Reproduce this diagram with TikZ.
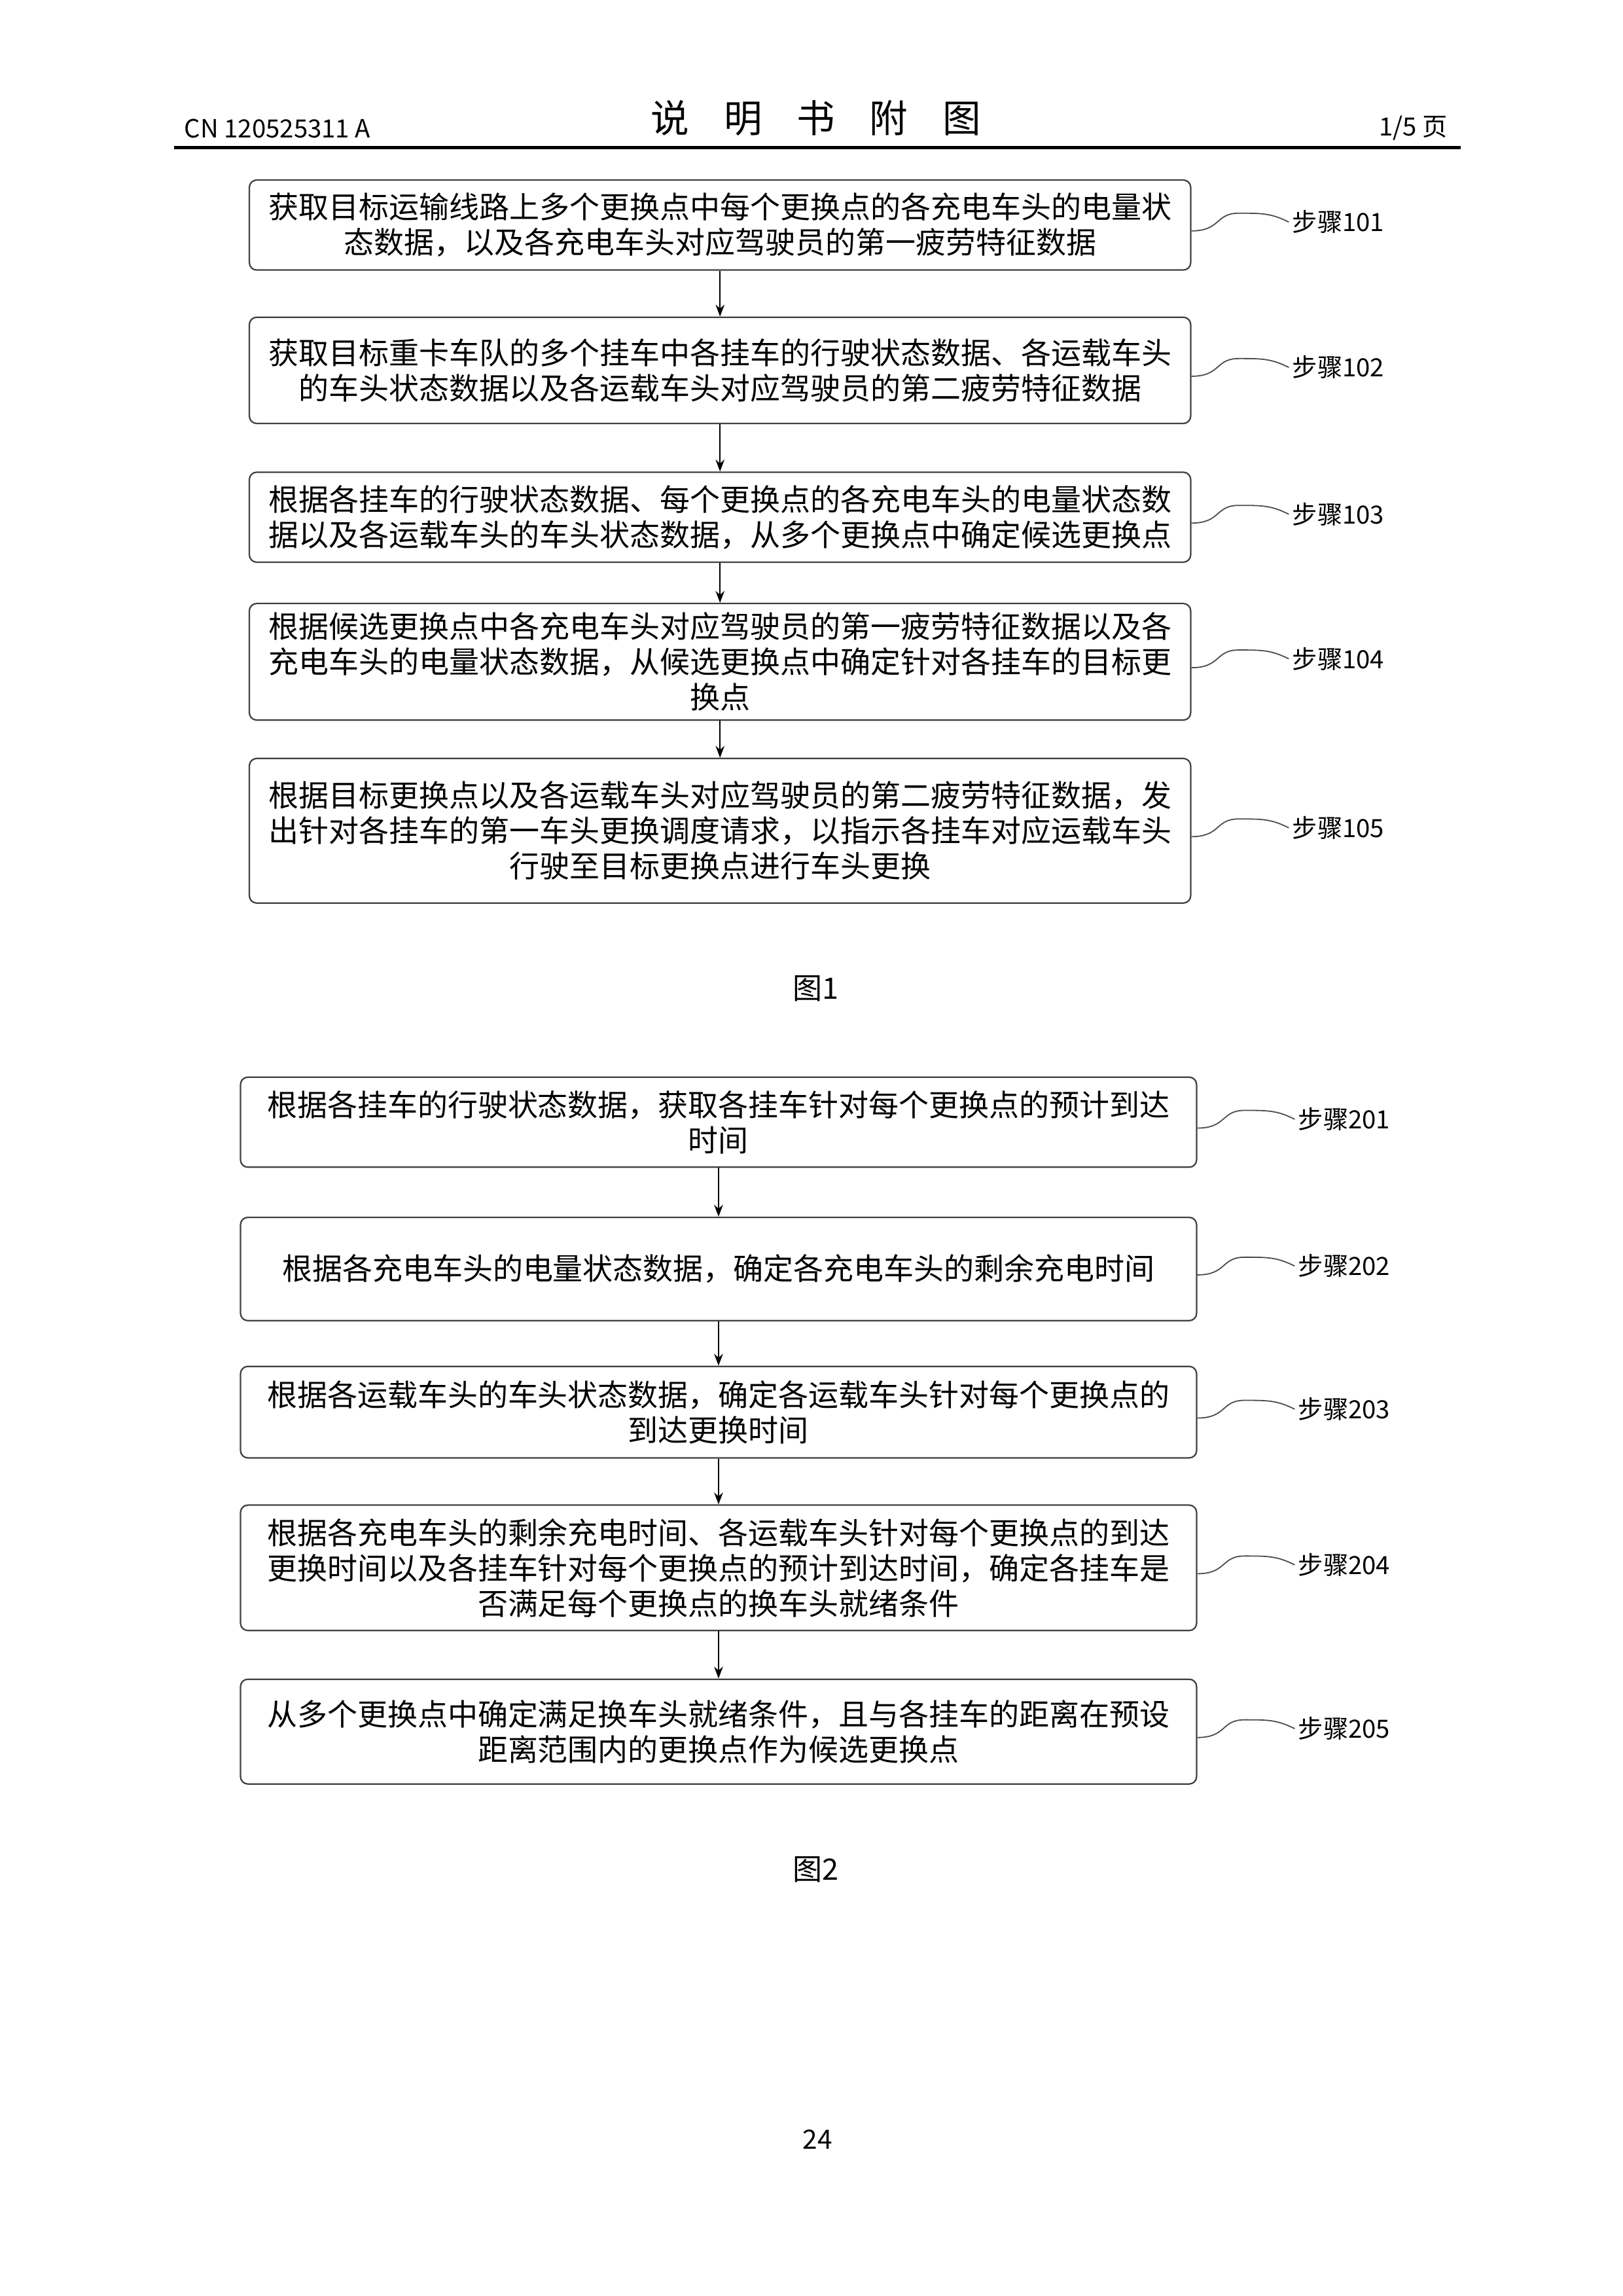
\documentclass[tikz,border=0pt]{standalone}
\usepackage{fontspec}
\setmainfont{Noto Sans CJK SC}
\usetikzlibrary{arrows.meta}
\begin{document}
\begin{tikzpicture}[x=1pt,y=1pt,
  box/.style={draw=black!75,line width=0.5pt,rounded corners=2.5pt,align=center,font=\fontsize{10.2}{12}\selectfont,inner sep=0pt},
  lab/.style={font=\fontsize{8.5}{10}\selectfont,inner sep=1pt},
  arr/.style={-{Stealth[length=4pt,width=3pt]},line width=0.5pt},
  sq/.style={line width=0.4pt,black!70}]
\useasboundingbox (0,0) rectangle (550,-778);
\node[anchor=west,font=\fontsize{8.5}{10}\selectfont] (cn) at (59,-43.5) {CN 120525311 A};
\node[font=\fontsize{13}{15}\selectfont] (tt) at (276.5,-40) {说\hspace{0.9em}明\hspace{0.9em}书\hspace{0.9em}附\hspace{0.9em}图};
\node[anchor=east,font=\fontsize{8.5}{10}\selectfont] (pg) at (494,-43.5) {1/5 页};
\coordinate (l1) at (59,-50); \coordinate (l2) at (495,-50);
\draw[line width=1.2pt] (l1) -- (l2);

\node[box,minimum width=319,minimum height=30.5] (b1) at (244,-76.25) {获取目标运输线路上多个更换点中每个更换点的各充电车头的电量状\\态数据，以及各充电车头对应驾驶员的第一疲劳特征数据};
\node[box,minimum width=319,minimum height=36] (b2) at (244,-125.5) {获取目标重卡车队的多个挂车中各挂车的行驶状态数据、各运载车头\\的车头状态数据以及各运载车头对应驾驶员的第二疲劳特征数据};
\node[box,minimum width=319,minimum height=30.5] (b3) at (244,-175.25) {根据各挂车的行驶状态数据、每个更换点的各充电车头的电量状态数\\据以及各运载车头的车头状态数据，从多个更换点中确定候选更换点};
\node[box,minimum width=319,minimum height=39.5] (b4) at (244,-224.25) {根据候选更换点中各充电车头对应驾驶员的第一疲劳特征数据以及各\\充电车头的电量状态数据，从候选更换点中确定针对各挂车的目标更\\换点};
\node[box,minimum width=319,minimum height=49] (b5) at (244,-281.5) {根据目标更换点以及各运载车头对应驾驶员的第二疲劳特征数据，发\\出针对各挂车的第一车头更换调度请求，以指示各挂车对应运载车头\\行驶至目标更换点进行车头更换};
\foreach \a/\b in {b1/b2,b2/b3,b3/b4,b4/b5} \draw[arr] (\a) -- (\b);
\foreach \n/\t in {b1/101,b2/102,b3/103,b4/104,b5/105}{
  \node[lab,anchor=west] (s\t) at ([xshift=33pt,yshift=1pt]\n.east) {步骤\t};
  \draw[sq] ([yshift=-2pt]\n.east) .. controls +(10,0) and +(-8,0) .. ([xshift=16pt,yshift=4pt]\n.east) .. controls +(8,0) and +(-6,3) .. (s\t.west);
}
\node[font=\fontsize{10}{12}\selectfont] (f1) at (276.5,-335) {图1};

\node[box,minimum width=324,minimum height=30.5] (c1) at (243.5,-380.25) {根据各挂车的行驶状态数据，获取各挂车针对每个更换点的预计到达\\时间};
\node[box,minimum width=324,minimum height=35] (c2) at (243.5,-430) {根据各充电车头的电量状态数据，确定各充电车头的剩余充电时间};
\node[box,minimum width=324,minimum height=31] (c3) at (243.5,-478.5) {根据各运载车头的车头状态数据，确定各运载车头针对每个更换点的\\到达更换时间};
\node[box,minimum width=324,minimum height=42.5] (c4) at (243.5,-531.25) {根据各充电车头的剩余充电时间、各运载车头针对每个更换点的到达\\更换时间以及各挂车针对每个更换点的预计到达时间，确定各挂车是\\否满足每个更换点的换车头就绪条件};
\node[box,minimum width=324,minimum height=35.5] (c5) at (243.5,-586.75) {从多个更换点中确定满足换车头就绪条件，且与各挂车的距离在预设\\距离范围内的更换点作为候选更换点};
\foreach \a/\b in {c1/c2,c2/c3,c3/c4,c4/c5} \draw[arr] (\a) -- (\b);
\foreach \n/\t in {c1/201,c2/202,c3/203,c4/204,c5/205}{
  \node[lab,anchor=west] (s\t) at ([xshift=33pt,yshift=1pt]\n.east) {步骤\t};
  \draw[sq] ([yshift=-2pt]\n.east) .. controls +(10,0) and +(-8,0) .. ([xshift=16pt,yshift=4pt]\n.east) .. controls +(8,0) and +(-6,3) .. (s\t.west);
}
\node[font=\fontsize{10}{12}\selectfont] (f2) at (276.5,-633.5) {图2};
\node[font=\fontsize{9}{11}\selectfont] (pn) at (277,-725) {24};
\end{tikzpicture}
\end{document}
